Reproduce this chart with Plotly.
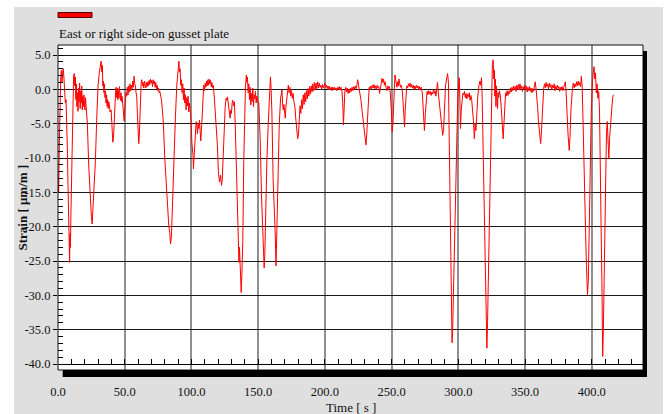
import plotly.graph_objects as go

# ---------------- data ----------------
time_s = [
    0.0, 0.5, 1.0, 1.5, 2.0, 2.5, 3.0, 3.5, 4.0, 4.5,
    5.0, 5.5, 6.0, 6.5, 7.0, 7.5, 8.0, 8.3, 8.7, 9.0,
    9.3, 9.7, 10.2, 10.7, 11.2, 11.7, 12.2, 12.6, 13.0, 13.4,
    13.8, 14.2, 14.6, 15.0, 15.4, 15.8, 16.2, 16.6, 17.0, 17.4,
    17.8, 18.2, 18.6, 19.0, 19.4, 19.8, 20.2, 20.6, 21.0, 22.0,
    23.0, 24.0, 25.0, 25.6, 26.2, 27.0, 28.0, 29.0, 30.0, 31.0,
    31.6, 32.3, 32.8, 33.2, 33.6, 34.0, 34.4, 34.8, 35.2, 35.6,
    36.0, 36.4, 36.8, 37.2, 37.6, 38.0, 38.5, 39.0, 39.8, 40.5,
    41.1, 41.6, 42.0, 42.6, 43.2, 43.6, 44.0, 44.4, 44.8, 45.2,
    45.6, 46.0, 46.4, 46.8, 47.2, 47.6, 48.0, 48.5, 49.0, 49.6,
    50.0, 50.5, 51.0, 51.5, 52.0, 52.5, 53.0, 53.5, 54.0, 54.5,
    55.0, 55.5, 56.0, 56.5, 57.0, 57.5, 58.0, 58.5, 59.0, 59.5,
    60.0, 60.5, 61.0, 61.4, 61.8, 62.3, 62.8, 63.3, 63.8, 64.3,
    64.8, 65.3, 65.8, 66.3, 66.8, 67.3, 67.8, 68.3, 68.8, 69.3,
    69.8, 70.3, 70.8, 71.3, 71.8, 72.3, 72.8, 73.3, 73.8, 74.3,
    74.8, 75.3, 75.8, 76.3, 76.8, 77.5, 78.2, 79.0, 80.0, 81.0,
    82.0, 83.0, 83.8, 84.3, 85.0, 85.5, 86.3, 87.0, 88.0, 89.0,
    89.8, 90.6, 91.0, 91.5, 92.0, 92.5, 93.0, 93.5, 94.0, 94.5,
    95.0, 95.5, 96.0, 96.5, 97.0, 97.5, 98.0, 98.5, 99.0, 99.8,
    100.3, 100.8, 101.2, 101.5, 102.0, 102.5, 103.0, 103.5, 104.0, 104.5,
    105.0, 105.5, 106.0, 106.5, 107.0, 107.5, 108.0, 108.6, 109.2, 109.8,
    110.3, 110.8, 111.3, 111.8, 112.3, 112.8, 113.3, 113.8, 114.3, 114.8,
    115.3, 115.8, 116.3, 117.0, 117.8, 118.6, 119.4, 120.2, 121.0, 121.8,
    122.5, 123.1, 123.8, 124.5, 125.3, 126.0, 126.6, 127.0, 127.5, 128.0,
    128.5, 129.0, 129.5, 130.0, 130.5, 131.0, 131.5, 132.2, 132.8, 133.6,
    134.3, 135.0, 135.6, 136.0, 136.6, 137.3, 137.8, 138.5, 139.2, 139.8,
    140.5, 141.2, 141.6, 142.0, 142.5, 143.0, 143.5, 144.0, 144.5, 145.0,
    145.5, 146.0, 146.5, 147.0, 147.5, 148.0, 148.5, 149.0, 149.5, 150.5,
    151.5, 152.5, 153.5, 154.0, 154.5, 155.0, 155.5, 156.5, 157.5, 158.5,
    159.2, 159.6, 160.3, 161.2, 162.0, 162.8, 163.4, 164.0, 164.8, 165.8,
    166.8, 167.8, 168.3, 168.8, 169.3, 169.8, 170.3, 170.8, 171.5, 172.0,
    172.6, 173.2, 173.8, 174.4, 175.0, 175.6, 176.2, 176.8, 177.5, 178.3,
    179.0, 179.6, 180.2, 180.8, 181.4, 182.0, 182.6, 183.2, 183.8, 184.4,
    185.0, 185.6, 186.2, 186.8, 187.4, 188.0, 188.6, 189.2, 189.8, 190.4,
    191.0, 191.6, 192.2, 192.8, 193.4, 194.0, 194.6, 195.2, 195.8, 196.4,
    197.0, 197.6, 198.2, 198.8, 199.4, 200.0, 200.6, 201.2, 201.8, 202.4,
    203.0, 203.6, 204.2, 204.8, 205.4, 206.0, 206.6, 207.2, 207.8, 208.4,
    209.0, 209.6, 210.2, 210.8, 211.4, 212.0, 212.8, 213.4, 213.9, 214.4,
    215.0, 215.6, 216.2, 216.8, 217.4, 218.0, 218.6, 219.2, 219.8, 220.4,
    221.0, 221.6, 222.2, 222.8, 223.4, 224.0, 224.6, 225.2, 225.8, 226.4,
    227.0, 227.8, 228.6, 229.3, 230.0, 230.8, 231.4, 232.0, 232.6, 233.2,
    233.8, 234.4, 235.0, 235.6, 236.2, 236.8, 237.4, 238.0, 238.6, 239.2,
    239.8, 240.4, 241.0, 241.6, 242.2, 242.8, 243.4, 244.0, 244.6, 245.2,
    245.8, 246.5, 247.2, 247.8, 248.4, 249.0, 249.8, 250.4, 251.0, 251.6,
    252.0, 252.5, 253.0, 253.5, 254.0, 254.5, 255.0, 255.5, 256.0, 256.6,
    257.2, 257.8, 258.5, 259.2, 259.7, 260.2, 260.8, 261.4, 262.0, 262.6,
    263.2, 263.8, 264.4, 265.0, 265.6, 266.2, 266.8, 267.4, 268.0, 268.6,
    269.2, 269.8, 270.4, 271.0, 271.6, 272.2, 273.0, 273.8, 274.6, 275.3,
    276.0, 276.6, 277.2, 277.8, 278.4, 279.0, 279.6, 280.2, 280.8, 281.4,
    282.0, 282.6, 283.2, 283.8, 284.4, 285.0, 285.8, 286.6, 287.4, 288.3,
    289.0, 289.6, 290.4, 291.2, 292.0, 292.6, 293.2, 293.7, 294.2, 294.7,
    295.0, 295.3, 295.7, 296.2, 297.0, 297.8, 298.6, 299.6, 300.2, 300.7,
    301.1, 301.6, 302.2, 302.8, 303.4, 304.0, 304.6, 305.2, 305.8, 306.4,
    307.0, 307.6, 308.2, 308.8, 309.4, 310.0, 310.6, 311.3, 312.0, 312.6,
    313.2, 313.8, 314.6, 315.4, 316.2, 316.8, 317.4, 317.9, 318.5, 319.2,
    320.0, 320.6, 321.0, 321.4, 321.9, 322.6, 323.4, 324.0, 324.6, 325.0,
    325.5, 326.1, 326.6, 327.0, 327.4, 327.8, 328.2, 328.6, 329.0, 329.4,
    329.8, 330.3, 330.8, 331.5, 332.3, 333.0, 333.6, 334.2, 334.8, 335.4,
    336.0, 336.6, 337.2, 337.8, 338.4, 339.0, 339.6, 340.2, 340.8, 341.4,
    342.0, 342.6, 343.2, 343.8, 344.4, 345.0, 345.6, 346.2, 346.8, 347.4,
    348.0, 348.6, 349.2, 349.8, 350.4, 351.0, 351.6, 352.2, 352.8, 353.4,
    354.0, 354.6, 355.2, 355.8, 356.4, 357.0, 357.6, 358.2, 358.8, 359.4,
    360.0, 360.6, 361.2, 361.7, 362.2, 362.8, 363.4, 364.0, 364.6, 365.2,
    365.8, 366.4, 367.0, 367.6, 368.2, 368.8, 369.4, 370.0, 370.6, 371.2,
    371.8, 372.4, 373.0, 373.6, 374.2, 374.8, 375.4, 376.0, 376.6, 377.2,
    377.8, 378.4, 379.0, 379.6, 380.2, 380.8, 381.4, 382.2, 383.1, 383.7,
    384.4, 385.0, 385.6, 386.2, 386.8, 387.4, 388.0, 388.6, 389.2, 389.8,
    390.4, 391.0, 391.6, 392.2, 392.8, 393.4, 394.0, 394.7, 395.4, 396.0,
    396.8, 397.4, 398.0, 398.6, 399.6, 400.6, 401.2, 401.7, 402.2, 402.8,
    403.4, 404.0, 404.6, 405.2, 405.8, 406.4, 407.0, 407.6, 408.0, 408.2,
    408.7, 409.2, 409.8, 410.4, 411.0, 411.6, 412.2, 412.8, 413.4, 414.2,
    415.0, 415.6, 416.2,
]

strain_um_m = [
    -12, -15, -8, -2, 1.5, 2.8, 1.0, 2.5, 3.0, 1.5,
    -1.0, -2.0, -1.5, -4, -8.5, -14, -20, -17, -25.2, -21,
    -23, -18, -12, -5, -1, 2.0, 2.3, 0.5, 1.8, -1.5,
    0.8, -2.5, -0.5, -3.2, 0.2, -1.8, 0.9, -2.8, -0.3, -2.0,
    0.5, -3.0, -1.0, -2.5, -0.8, -1.9, -3.0, -1.2, -2.2, -5,
    -11, -16, -18.5, -19.6, -17.5, -14.5, -10.5, -4.5, 0.5, 2.5,
    3.2, 4.1, 2.5, 3.5, 0.5, 1.2, -0.5, 0.8, -1.2, -0.3,
    -2.0, -0.8, -2.5, -1.5, -2.8, -1.8, -2.2, -3.3, -3.0, -5.5,
    -7.7, -7.0, -5, -1.5, -0.3, 0.3, -1.2, 0.2, -1.5, -0.2,
    -1.3, 0.4, -0.9, -1.6, -0.5, -1.8, -1.0, -2.2, -3.5, -4.6,
    -3.0, -1.5, -0.5, -1.0, 0.3, -0.8, 0.5, -0.4, 0.8, -0.2,
    0.6, 0.1, 1.2, 0.3, 1.9, 0.8, 0.5, -0.5, -1.0, -3.5,
    -5.5, -7.9, -6.5, -3.0, -0.5, 0.9, 1.4, 0.5, 1.0, 0.2,
    1.2, 0.6, 0.2, 1.0, 0.4, 1.1, 0.5, 1.3, 0.7, 1.5,
    0.9, 1.3, 0.4, 1.4, 0.8, 1.2, 0.3, 1.0, 0.1, 0.6,
    -0.2, 0.2, -0.5, -0.3, -0.8, -1.5, -3.0, -5, -10, -14,
    -17.5, -19.8, -21, -22.5, -21.5, -18, -14, -10.5, -4, 0.5,
    2.6, 4.1, 2.5, 3.0, 0.6, 1.4, -0.5, 0.8, -1.5, 0.2,
    -2.0, -0.8, -3.0, -1.2, -2.4, -1.0, -3.3, -2.0, -3.0, -4.5,
    -7.7, -8.5, -9.6, -11.6, -9.8, -7.5, -5.5, -4.7, -5.2, -6.5,
    -5.0, -5.7, -4.5, -6.2, -7.5, -6.0, -4, -0.5, 0.6, -0.2,
    0.9, 0.3, 1.2, 0.5, 1.4, 0.6, 1.5, 0.8, 1.3, 0.4,
    1.0, 0.2, 0.6, -0.8, -3.0, -5.7, -8, -12, -13.5, -12.5,
    -14.0, -13.2, -9.8, -5.5, -2.5, -1.3, -1.6, -1.1, -2.0, -2.8,
    -3.3, -4.2, -3.0, -3.5, -2.0, -1.6, -2.4, -1.8, -5, -11,
    -17, -21, -25.2, -23, -26, -29.6, -27, -22, -10.5, -4,
    0.5, 2.1, 1.0, 1.8, -0.5, 0.8, -1.5, 0.3, -2.3, -0.6,
    -1.8, 0.2, -2.5, -0.8, -1.4, -0.3, -2.0, -1.0, -1.6, -2.0,
    -7.2, -15.5, -20.5, -22.8, -26.0, -24, -17.9, -10.6, -5.2, -1.3,
    1.8, 0.5, -3.3, -13, -19.3, -21.2, -25.7, -21, -12, -5.2,
    -1.3, -0.1, -2.0, -3.0, -2.2, -3.8, -4.2, -2.6, -1.5, -0.2,
    0.6, -0.5, 0.3, -1.0, -0.2, -1.3, -0.6, -1.8, -2.5, -4.5,
    -6.0, -7.2, -6.5, -4.0, -2.4, -3.5, -1.5, -2.8, -0.8, -2.2,
    -0.5, -1.8, -0.2, -1.4, 0.1, -1.0, 0.4, -0.7, 0.5, -0.4,
    0.8, -0.2, 1.0, 0.0, 0.9, 0.1, 1.1, 0.2, 0.9, 0.3,
    0.6, 0.0, 0.7, 0.2, 0.5, 0.9, 0.3, 0.6, 0.1, 0.5,
    -0.1, 0.4, 0.0, 0.3, -0.2, 0.3, 0.0, 0.3, -0.1, 0.2,
    -0.2, 0.3, 0.0, 0.4, -0.1, 0.3, -0.3, -2, -5.2, -2,
    -0.2, 0.3, -0.4, 0.2, -0.6, 0.0, -0.5, 0.2, -0.3, 0.3,
    -0.2, 0.4, 0.0, 0.5, 0.1, 0.6, 1.4, 0.6, 0.0, -0.5,
    -1.5, -3, -4.2, -5.5, -6.2, -8.1, -6.5, -3.5, -0.8, 0.3,
    0.0, 0.5, 0.1, 0.6, 0.2, 0.7, 0.1, 0.5, 0.0, 0.6,
    0.2, 0.4, -0.6, 0.2, 0.8, 1.6, 1.0, 1.5, 0.6, 1.1,
    0.3, -0.2, 0.5, 0.1, 0.4, -0.5, -3, -6.2, -5, -1,
    1.2, 2.1, 1.5, 0.8, 0.3, 1.1, 0.5, 1.5, 0.8, 0.3,
    0.6, 0.1, -1.5, -4.0, -5.5, -3.0, -0.5, 0.5, 0.2, 0.8,
    0.4, 0.9, 0.3, 0.7, 0.2, 0.6, 0.0, 0.5, 0.1, 0.6,
    0.2, 0.5, -0.1, 0.4, 0.0, 0.3, -0.5, -3, -6.0, -3.5,
    -0.5, -0.3, -0.8, -0.2, -0.7, -0.3, -0.9, -0.4, -0.7, -0.1,
    -0.6, -0.2, -1.0, 0.2, 1.0, -0.5, -2, -3.5, -4.5, -6.7,
    -5.8, -3.0, 0.5, 1.5, 2.3, 1.0, -7, -12, -18, -28,
    -34, -36.9, -35.5, -31, -23, -14.5, -7.2, -1.0, 0.8, 1.7,
    -1.0, -5.7, -3.0, -1.9, -0.6, -0.8, -0.3, -1.2, -0.6, -1.4,
    -0.7, -1.1, -0.5, -1.6, -0.9, -1.5, -2.5, -4.5, -7.2, -5.0,
    -6.0, -3.5, -1.0, 0.5, 1.2, 0.6, 1.7, -1.5, -8, -17.9,
    -24, -31, -35, -37.7, -34, -26, -17, -10.5, -4, 0.5,
    3.6, 4.3, 1.5, 2.8, -1.0, 1.5, -2.5, 0.5, -1.5, -2.8,
    -0.5, -1.2, -0.2, -1.0, -3, -5.5, -7.2, -5, -1.8, -0.5,
    -1.0, -0.2, -0.9, -0.3, -0.6, 0.2, -0.4, 0.3, -0.2, 0.5,
    -0.1, 0.4, -0.3, 0.6, 0.0, 0.7, -0.1, 0.8, 0.1, 0.5,
    -0.3, 0.4, 0.0, 0.6, -0.1, 0.5, -0.4, 0.3, -0.2, 0.4,
    -0.3, 0.2, -0.5, 0.1, -0.3, 0.6, 1.1, 0.2, -0.8, -2.5,
    -4.5, -6.0, -6.8, -7.9, -6.5, -4.2, -1.5, 0.2, 0.8, 0.2,
    1.0, 0.4, 0.8, 0.1, 0.9, 0.3, 0.7, -0.1, 0.6, 0.2,
    0.8, -0.2, 0.5, 0.0, 0.6, 0.1, 0.4, -0.3, 0.3, 0.0,
    0.4, -0.2, 0.3, 0.7, 1.1, -0.5, -3.5, -6.5, -8.9, -7.0,
    -3.0, -1.0, 0.3, 0.9, 0.2, 0.8, 0.4, 1.1, 0.5, 1.2,
    0.6, 1.0, 0.4, 1.9, 0.5, -4, -11, -14.5, -21, -25.5,
    -29.9, -28, -20, -11.5, -3.5, 1.5, 2.8, 3.3, 1.5, 2.4,
    -0.5, 0.8, -1.3, -0.3, -3, -9, -20, -28, -33.5, -38.9,
    -35, -27, -18, -8.1, -6.5, -4.7, -7.5, -10.1, -7.0, -4.5,
    -2.2, -1.3, -0.8,
]

x_tick_vals = [0, 50, 100, 150, 200, 250, 300, 350, 400]
x_tick_text = ["0.0", "50.0", "100.0", "150.0", "200.0", "250.0", "300.0", "350.0", "400.0"]
y_tick_vals = [5, 0, -5, -10, -15, -20, -25, -30, -35, -40]
y_tick_text = ["5.0", "0.0", "-5.0", "-10.0", "-15.0", "-20.0", "-25.0", "-30.0", "-35.0", "-40.0"]

series_name = "East or right side-on gusset plate"
x_title = "Time [ s ]"
y_title = "Strain [ \u03bcm/m ]"

# ---------------- layout geometry ----------------
W, H = 668, 414
L, R, T, B = 58, 25, 45, 44
PW, PH = W - L - R, H - T - B


def fx(px):
    return (px - L) / PW


def fy(py):
    return (H - B - py) / PH


FONT = "Liberation Serif, Times New Roman, serif"

fig = go.Figure()
fig.add_trace(go.Scatter(
    x=time_s, y=strain_um_m, mode="lines", name=series_name,
    line=dict(color="#ff0000", width=1), hoverinfo="skip", showlegend=False,
))

shapes = [
    # grey panel background
    dict(type="rect", xref="paper", yref="paper", x0=fx(14), x1=fx(663), y0=fy(414), y1=fy(7),
         fillcolor="#dfdfdf", line=dict(width=0), layer="below"),
    # white plot area
    dict(type="rect", xref="paper", yref="paper", x0=0, x1=1, y0=0, y1=1,
         fillcolor="#ffffff", line=dict(width=0), layer="below"),
    # frame
    dict(type="rect", xref="paper", yref="paper", x0=0, x1=1, y0=0, y1=1,
         fillcolor="rgba(0,0,0,0)", line=dict(color="#111111", width=1), layer="above"),
    # shadow bars
    dict(type="rect", xref="paper", yref="paper", x0=fx(62.7), x1=fx(647), y0=fy(377), y1=fy(370),
         fillcolor="#000000", line=dict(width=0), layer="above"),
    dict(type="rect", xref="paper", yref="paper", x0=fx(643), x1=fx(647), y0=fy(377), y1=fy(51),
         fillcolor="#000000", line=dict(width=0), layer="above"),
    # legend swatch
    dict(type="rect", xref="paper", yref="paper", x0=fx(58), x1=fx(92), y0=fy(17.5), y1=fy(12.5),
         fillcolor="#ff0000", line=dict(color="#500000", width=1), layer="above"),
]

annotations = [
    dict(text=series_name, xref="paper", yref="paper", x=fx(57), y=fy(33),
         xanchor="left", yanchor="middle", showarrow=False,
         font=dict(family=FONT, size=13, color="#111111")),
    dict(text=x_title, xref="paper", yref="paper", x=0.5, y=fy(407),
         xanchor="center", yanchor="middle", showarrow=False,
         font=dict(family=FONT, size=13, color="#111111")),
    dict(text="<b>" + y_title + "</b>", xref="paper", yref="paper", x=fx(22), y=0.5,
         xanchor="center", yanchor="middle", textangle=-90, showarrow=False,
         font=dict(family=FONT, size=13, color="#111111")),
]

fig.update_layout(
    width=W, height=H, autosize=False,
    margin=dict(l=L, r=R, t=T, b=B, pad=0),
    paper_bgcolor="#ffffff", plot_bgcolor="rgba(0,0,0,0)",
    showlegend=False,
    shapes=shapes, annotations=annotations,
    xaxis=dict(
        range=[0, 438.4], anchor="free", position=fy(364),
        tickmode="array", tickvals=x_tick_vals, ticktext=x_tick_text,
        ticks="inside", ticklen=5, tickcolor="#000000", tickwidth=1,
        showline=True, linecolor="#000000", linewidth=1,
        showgrid=True, gridcolor="#8f8f8f", gridwidth=1.5, zeroline=False,
        minor=dict(ticks="inside", ticklen=5, tick0=0, dtick=10, tickcolor="#000000", showgrid=False),
        tickfont=dict(family=FONT, size=12.5, color="#111111"),
        ticklabelstandoff=16,
    ),
    yaxis=dict(
        range=[-40.874, 6.456],
        tickmode="array", tickvals=y_tick_vals, ticktext=y_tick_text,
        ticks="outside", ticklen=4, tickcolor="#000000", tickwidth=1,
        showline=False,
        showgrid=True, gridcolor="#1a1a1a", gridwidth=1, zeroline=False,
        minor=dict(ticks="inside", ticklen=5, tick0=0, dtick=1, tickcolor="#000000", showgrid=False),
        tickfont=dict(family=FONT, size=12.5, color="#111111"),
    ),
)

fig.write_html(
    "out.html",
    config={"displayModeBar": False},
    post_script="document.body.style.margin='0';document.body.style.padding='0';"
                "document.documentElement.style.overflow='hidden';",
)
